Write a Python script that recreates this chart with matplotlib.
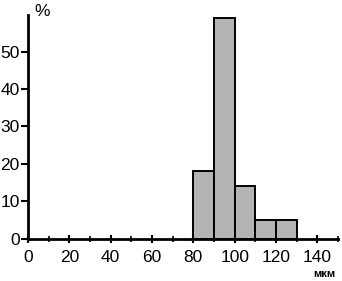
import matplotlib
matplotlib.use("Agg")
import matplotlib.pyplot as plt
from matplotlib.ticker import MultipleLocator

# histogram of particle size, bins of 10 um
bin_left  = [80, 90, 100, 110, 120]
percent   = [18, 59, 14, 5, 5]
x_ticks   = [0, 20, 40, 60, 80, 100, 120, 140]
y_ticks   = [0, 10, 20, 30, 40, 50]

plt.rcParams["font.family"] = ["Liberation Sans", "DejaVu Sans"]

fig = plt.figure(figsize=(3.42, 2.81), dpi=100)
ax = fig.add_axes([28 / 342, 42.3 / 281, 310 / 342, 223.7 / 281])

ax.bar(bin_left, percent, width=10, align="edge",
       color="#b4b4b4", edgecolor="black", linewidth=1.4, zorder=2)

ax.set_xlim(0, 150)
ax.set_ylim(0, 59.8)
ax.set_xticks(x_ticks)
ax.set_yticks(y_ticks)
ax.xaxis.set_minor_locator(MultipleLocator(10))

for side in ("top", "right"):
    ax.spines[side].set_visible(False)
for side in ("left", "bottom"):
    ax.spines[side].set_linewidth(2)
    ax.spines[side].set_zorder(3)

ax.tick_params(axis="y", which="major", direction="out", length=5,
               width=1.5, labelsize=12.5, pad=1, colors="black")
ax.tick_params(axis="x", which="major", direction="inout", length=6,
               width=1.5, labelsize=12.5, pad=5, colors="black")
ax.tick_params(axis="x", which="minor", direction="inout", length=5, width=1.2)

fig.text(42 / 342, 1 - 11 / 281, "%", fontsize=12.5, ha="center", va="center")
fig.text(324 / 342, 1 - 274 / 281, "мкм", fontsize=8, fontweight="bold",
         ha="center", va="center")

fig.savefig("out.png", dpi=100)
